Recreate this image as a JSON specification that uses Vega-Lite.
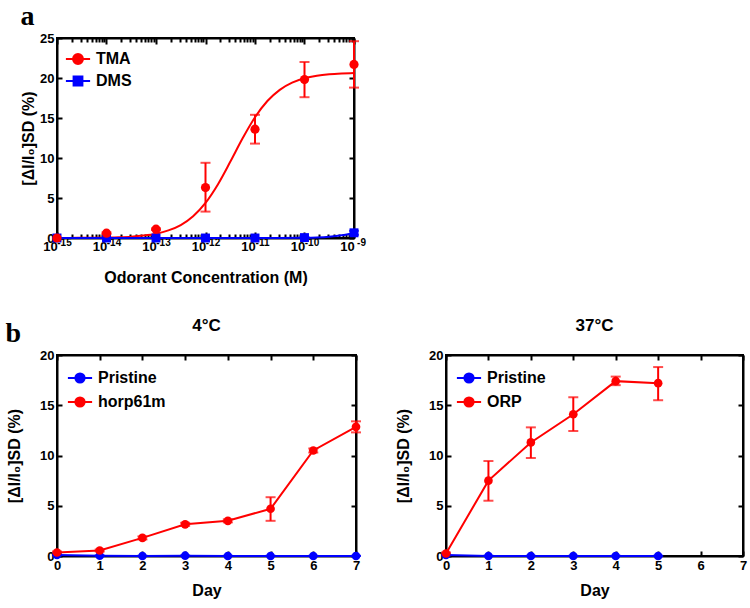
{
  "$schema": "https://vega.github.io/schema/vega-lite/v6.json",
  "background": "white",
  "padding": {"left": 5, "top": 2, "right": 5, "bottom": 5},
  "spacing": 30,
  "columns": 1,
  "align": "none",
  "datasets": {
    "a_pts": [
      {"conc": 1e-15, "series": "TMA", "mean": 0, "lo": 0, "hi": 0},
      {"conc": 1e-14, "series": "TMA", "mean": 0.6, "lo": 0.5, "hi": 0.7},
      {"conc": 1e-13, "series": "TMA", "mean": 1.1, "lo": 1.0, "hi": 1.2},
      {"conc": 1e-12, "series": "TMA", "mean": 6.3, "lo": 3.3, "hi": 9.4},
      {"conc": 1e-11, "series": "TMA", "mean": 13.6, "lo": 11.8, "hi": 15.4},
      {"conc": 1e-10, "series": "TMA", "mean": 19.8, "lo": 17.6, "hi": 22.0},
      {"conc": 1e-9, "series": "TMA", "mean": 21.7, "lo": 18.8, "hi": 24.6},
      {"conc": 1e-15, "series": "DMS", "mean": 0, "lo": 0, "hi": 0},
      {"conc": 1e-14, "series": "DMS", "mean": 0, "lo": 0, "hi": 0},
      {"conc": 1e-13, "series": "DMS", "mean": 0, "lo": 0, "hi": 0},
      {"conc": 1e-12, "series": "DMS", "mean": 0, "lo": 0, "hi": 0},
      {"conc": 1e-11, "series": "DMS", "mean": 0, "lo": 0, "hi": 0},
      {"conc": 1e-10, "series": "DMS", "mean": 0.05, "lo": 0, "hi": 0.1},
      {"conc": 1e-9, "series": "DMS", "mean": 0.65, "lo": 0.4, "hi": 0.9}
    ],
    "a_fit": [
      {"conc": 1e-15, "series": "TMA", "resp": 0.01},
      {"conc": 1.7783e-15, "series": "TMA", "resp": 0.01},
      {"conc": 3.1623e-15, "series": "TMA", "resp": 0.02},
      {"conc": 5.6234e-15, "series": "TMA", "resp": 0.03},
      {"conc": 1e-14, "series": "TMA", "resp": 0.06},
      {"conc": 1.7783e-14, "series": "TMA", "resp": 0.1},
      {"conc": 3.1623e-14, "series": "TMA", "resp": 0.17},
      {"conc": 5.6234e-14, "series": "TMA", "resp": 0.31},
      {"conc": 1e-13, "series": "TMA", "resp": 0.54},
      {"conc": 1.7783e-13, "series": "TMA", "resp": 0.95},
      {"conc": 3.1623e-13, "series": "TMA", "resp": 1.62},
      {"conc": 5.6234e-13, "series": "TMA", "resp": 2.72},
      {"conc": 1e-12, "series": "TMA", "resp": 4.39},
      {"conc": 1.7783e-12, "series": "TMA", "resp": 6.7},
      {"conc": 3.1623e-12, "series": "TMA", "resp": 9.52},
      {"conc": 5.6234e-12, "series": "TMA", "resp": 12.46},
      {"conc": 1e-11, "series": "TMA", "resp": 15.09},
      {"conc": 1.7783e-11, "series": "TMA", "resp": 17.12},
      {"conc": 3.1623e-11, "series": "TMA", "resp": 18.52},
      {"conc": 5.6234e-11, "series": "TMA", "resp": 19.42},
      {"conc": 1e-10, "series": "TMA", "resp": 19.96},
      {"conc": 1.7783e-10, "series": "TMA", "resp": 20.28},
      {"conc": 3.1623e-10, "series": "TMA", "resp": 20.46},
      {"conc": 5.6234e-10, "series": "TMA", "resp": 20.56},
      {"conc": 1e-9, "series": "TMA", "resp": 20.62},
      {"conc": 1e-15, "series": "DMS", "resp": 0},
      {"conc": 1e-14, "series": "DMS", "resp": 0},
      {"conc": 1e-13, "series": "DMS", "resp": 0},
      {"conc": 1e-12, "series": "DMS", "resp": 0},
      {"conc": 1e-11, "series": "DMS", "resp": 0.01},
      {"conc": 3.1623e-11, "series": "DMS", "resp": 0.01},
      {"conc": 1e-10, "series": "DMS", "resp": 0.03},
      {"conc": 1.7783e-10, "series": "DMS", "resp": 0.07},
      {"conc": 3.1623e-10, "series": "DMS", "resp": 0.16},
      {"conc": 5.6234e-10, "series": "DMS", "resp": 0.33},
      {"conc": 1e-9, "series": "DMS", "resp": 0.62}
    ],
    "b4": [
      {"day": 0, "series": "Pristine", "mean": 0.1, "lo": 0.05, "hi": 0.15},
      {"day": 1, "series": "Pristine", "mean": 0.03, "lo": 0.0, "hi": 0.06},
      {"day": 2, "series": "Pristine", "mean": 0.0, "lo": 0.0, "hi": 0.03},
      {"day": 3, "series": "Pristine", "mean": 0.03, "lo": 0.0, "hi": 0.06},
      {"day": 4, "series": "Pristine", "mean": 0.0, "lo": 0.0, "hi": 0.03},
      {"day": 5, "series": "Pristine", "mean": 0.0, "lo": 0.0, "hi": 0.03},
      {"day": 6, "series": "Pristine", "mean": 0.0, "lo": 0.0, "hi": 0.03},
      {"day": 7, "series": "Pristine", "mean": 0.0, "lo": 0.0, "hi": 0.03},
      {"day": 0, "series": "horp61m", "mean": 0.35, "lo": 0.25, "hi": 0.45},
      {"day": 1, "series": "horp61m", "mean": 0.55, "lo": 0.45, "hi": 0.65},
      {"day": 2, "series": "horp61m", "mean": 1.8, "lo": 1.65, "hi": 1.95},
      {"day": 3, "series": "horp61m", "mean": 3.15, "lo": 3.0, "hi": 3.3},
      {"day": 4, "series": "horp61m", "mean": 3.5, "lo": 3.35, "hi": 3.65},
      {"day": 5, "series": "horp61m", "mean": 4.7, "lo": 3.5, "hi": 5.85},
      {"day": 6, "series": "horp61m", "mean": 10.5, "lo": 10.3, "hi": 10.7},
      {"day": 7, "series": "horp61m", "mean": 12.85, "lo": 12.3, "hi": 13.4}
    ],
    "b37": [
      {"day": 0, "series": "Pristine", "mean": 0.1, "lo": 0.05, "hi": 0.15},
      {"day": 1, "series": "Pristine", "mean": 0.0, "lo": 0.0, "hi": 0.03},
      {"day": 2, "series": "Pristine", "mean": 0.0, "lo": 0.0, "hi": 0.03},
      {"day": 3, "series": "Pristine", "mean": 0.0, "lo": 0.0, "hi": 0.03},
      {"day": 4, "series": "Pristine", "mean": 0.0, "lo": 0.0, "hi": 0.03},
      {"day": 5, "series": "Pristine", "mean": 0.0, "lo": 0.0, "hi": 0.03},
      {"day": 0, "series": "ORP", "mean": 0.25, "lo": 0.15, "hi": 0.35},
      {"day": 1, "series": "ORP", "mean": 7.5, "lo": 5.5, "hi": 9.45},
      {"day": 2, "series": "ORP", "mean": 11.3, "lo": 9.75, "hi": 12.8},
      {"day": 3, "series": "ORP", "mean": 14.1, "lo": 12.45, "hi": 15.8},
      {"day": 4, "series": "ORP", "mean": 17.4, "lo": 17.0, "hi": 17.85},
      {"day": 5, "series": "ORP", "mean": 17.2, "lo": 15.5, "hi": 18.8}
    ]
  },
  "resolve": {"scale": {"color": "independent"}, "legend": {"color": "independent"}},
  "concat": [
    {
      "width": 297,
      "height": 200,
      "title": {"text": "a", "anchor": "start", "frame": "bounds", "font": "Liberation Serif", "fontSize": 28, "fontWeight": "bold", "offset": 1},
      "layer": [
        {
          "data": {"name": "a_fit"},
          "mark": {"type": "line", "strokeWidth": 2, "interpolate": "monotone"},
          "encoding": {
            "x": {"field": "conc", "type": "quantitative", "scale": {"type": "log", "domain": [1e-15, 1e-9], "nice": false},
              "axis": {"orient": "bottom", "title": "Odorant Concentration (M)", "labelPadding": 8, "titlePadding": 14, "labelOffset": -7,
                "values": [1e-15,2e-15,3e-15,4e-15,5e-15,6e-15,7e-15,8e-15,9e-15,1e-14,2e-14,3e-14,4e-14,5e-14,6e-14,7e-14,8e-14,9e-14,1e-13,2e-13,3e-13,4e-13,5e-13,6e-13,7e-13,8e-13,9e-13,1e-12,2e-12,3e-12,4e-12,5e-12,6e-12,7e-12,8e-12,9e-12,1e-11,2e-11,3e-11,4e-11,5e-11,6e-11,7e-11,8e-11,9e-11,1e-10,2e-10,3e-10,4e-10,5e-10,6e-10,7e-10,8e-10,9e-10,1e-9],
                "labelExpr": "abs(log(datum.value)/LN10 - round(log(datum.value)/LN10)) > 0.001 ? '' : '10'",
                "tickSize": {"condition": {"test": "abs(log(datum.value)/LN10 - round(log(datum.value)/LN10)) < 0.001", "value": -6}, "value": -4}}},
            "y": {"field": "resp", "type": "quantitative", "scale": {"domain": [0, 25], "nice": false},
              "axis": {"orient": "left", "title": "[ΔI/I₀]SD (%)", "values": [0, 5, 10, 15, 20, 25], "titlePadding": 3}},
            "color": {"field": "series", "type": "nominal", "scale": {"domain": ["TMA", "DMS"], "range": ["#ff0000", "#0000ff"]},
              "legend": {"title": null, "orient": "top-left", "offset": 9, "symbolSize": 484, "rowPadding": 1,
                "encode": {"symbols": {"update": {
                  "shape": {"signal": "datum.value === 'DMS' ? 'M-1.1,0H1.1M-0.4,-0.4H0.4V0.4H-0.4Z' : 'M-1.1,0H1.1M-0.45,0A0.45,0.45,0,1,1,0.45,0A0.45,0.45,0,1,1,-0.45,0Z'"},
                  "fill": {"signal": "datum.value === 'DMS' ? '#0000ff' : '#ff0000'"},
                  "stroke": {"signal": "datum.value === 'DMS' ? '#0000ff' : '#ff0000'"},
                  "strokeWidth": {"value": 2},
                  "opacity": {"value": 1}}}}}}
          }
        },
        {
          "data": {"name": "a_pts"},
          "mark": {"type": "rule", "strokeWidth": 2},
          "encoding": {
            "x": {"field": "conc", "type": "quantitative", "scale": {"type": "log", "domain": [1e-15, 1e-9], "nice": false},
              "axis": {"orient": "bottom", "title": null, "ticks": false, "domain": false, "labelFontSize": 10, "labelPadding": -1, "labelOffset": 7,
                "values": [1e-15, 1e-14, 1e-13, 1e-12, 1e-11, 1e-10, 1e-9],
                "labelExpr": "'-' + format(-round(log(datum.value)/LN10), 'd')"}},
            "y": {"field": "lo", "type": "quantitative", "scale": {"domain": [0, 25], "nice": false}, "axis": null},
            "y2": {"field": "hi"},
            "color": {"field": "series", "type": "nominal"}
          }
        },
        {
          "data": {"name": "a_pts"},
          "mark": {"type": "tick", "orient": "horizontal", "size": 10, "thickness": 2},
          "encoding": {
            "x": {"field": "conc", "type": "quantitative", "scale": {"type": "log", "domain": [1e-15, 1e-9], "nice": false}, "axis": null},
            "y": {"field": "lo", "type": "quantitative", "scale": {"domain": [0, 25], "nice": false}, "axis": null},
            "color": {"field": "series", "type": "nominal"}
          }
        },
        {
          "data": {"name": "a_pts"},
          "mark": {"type": "tick", "orient": "horizontal", "size": 10, "thickness": 2},
          "encoding": {
            "x": {"field": "conc", "type": "quantitative", "scale": {"type": "log", "domain": [1e-15, 1e-9], "nice": false}, "axis": null},
            "y": {"field": "hi", "type": "quantitative", "scale": {"domain": [0, 25], "nice": false}, "axis": null},
            "color": {"field": "series", "type": "nominal"}
          }
        },
        {
          "data": {"name": "a_pts"},
          "transform": [{"filter": "datum.series === 'DMS'"}],
          "mark": {"type": "point", "filled": true, "opacity": 1, "size": 80, "shape": "square"},
          "encoding": {
            "x": {"field": "conc", "type": "quantitative", "scale": {"type": "log", "domain": [1e-15, 1e-9], "nice": false}, "axis": null},
            "y": {"field": "mean", "type": "quantitative", "scale": {"domain": [0, 25], "nice": false}, "axis": null},
            "color": {"field": "series", "type": "nominal"}
          }
        },
        {
          "data": {"name": "a_pts"},
          "transform": [{"filter": "datum.series === 'TMA'"}],
          "mark": {"type": "point", "filled": true, "opacity": 1, "size": 85, "shape": "circle"},
          "encoding": {
            "x": {"field": "conc", "type": "quantitative", "scale": {"type": "log", "domain": [1e-15, 1e-9], "nice": false},
              "axis": {"orient": "top", "title": null, "labels": false,
                "values": [1e-15,2e-15,3e-15,4e-15,5e-15,6e-15,7e-15,8e-15,9e-15,1e-14,2e-14,3e-14,4e-14,5e-14,6e-14,7e-14,8e-14,9e-14,1e-13,2e-13,3e-13,4e-13,5e-13,6e-13,7e-13,8e-13,9e-13,1e-12,2e-12,3e-12,4e-12,5e-12,6e-12,7e-12,8e-12,9e-12,1e-11,2e-11,3e-11,4e-11,5e-11,6e-11,7e-11,8e-11,9e-11,1e-10,2e-10,3e-10,4e-10,5e-10,6e-10,7e-10,8e-10,9e-10,1e-9],
                "tickSize": {"condition": {"test": "abs(log(datum.value)/LN10 - round(log(datum.value)/LN10)) < 0.001", "value": -6}, "value": -4}}},
            "y": {"field": "mean", "type": "quantitative", "scale": {"domain": [0, 25], "nice": false},
              "axis": {"orient": "right", "title": null, "labels": false, "values": [0, 5, 10, 15, 20, 25]}},
            "color": {"field": "series", "type": "nominal"}
          }
        }
      ],
      "resolve": {"axis": {"x": "independent", "y": "independent"}}
    },
    {
      "title": {"text": "b", "anchor": "start", "frame": "bounds", "font": "Liberation Serif", "fontSize": 28, "fontWeight": "bold", "offset": -32},
      "spacing": 32,
      "resolve": {"scale": {"color": "independent"}, "legend": {"color": "independent"}},
      "hconcat": [
        {
          "width": 299,
          "height": 201,
          "title": {"text": "4°C", "offset": 14},
          "data": {"name": "b4"},
          "layer": [
            {
              "mark": {"type": "line", "strokeWidth": 2},
              "encoding": {
                "x": {"field": "day", "type": "quantitative", "scale": {"domain": [0, 7], "nice": false},
                  "axis": {"orient": "bottom", "title": "Day", "values": [0, 1, 2, 3, 4, 5, 6, 7]}},
                "y": {"field": "mean", "type": "quantitative", "scale": {"domain": [0, 20], "nice": false},
                  "axis": {"orient": "left", "title": "[ΔI/I₀]SD (%)", "values": [0, 5, 10, 15, 20], "titlePadding": 17}},
                "color": {"field": "series", "type": "nominal", "scale": {"domain": ["Pristine", "horp61m"], "range": ["#0000ff", "#ff0000"]},
                  "legend": {"title": null, "orient": "top-left", "offset": 11, "symbolSize": 484, "rowPadding": 3,
                    "encode": {"symbols": {"update": {
                      "shape": {"value": "M-1.1,0H1.1M-0.42,0A0.42,0.42,0,1,1,0.42,0A0.42,0.42,0,1,1,-0.42,0Z"},
                      "fill": {"signal": "datum.value === 'Pristine' ? '#0000ff' : '#ff0000'"},
                      "stroke": {"signal": "datum.value === 'Pristine' ? '#0000ff' : '#ff0000'"},
                      "strokeWidth": {"value": 2},
                      "opacity": {"value": 1}}}}}}
              }
            },
            {
              "mark": {"type": "rule", "strokeWidth": 2},
              "encoding": {
                "x": {"field": "day", "type": "quantitative", "scale": {"domain": [0, 7], "nice": false}, "axis": null},
                "y": {"field": "lo", "type": "quantitative", "scale": {"domain": [0, 20], "nice": false}, "axis": null},
                "y2": {"field": "hi"},
                "color": {"field": "series", "type": "nominal"}
              }
            },
            {
              "mark": {"type": "tick", "orient": "horizontal", "size": 10, "thickness": 2},
              "encoding": {
                "x": {"field": "day", "type": "quantitative", "scale": {"domain": [0, 7], "nice": false}, "axis": null},
                "y": {"field": "lo", "type": "quantitative", "scale": {"domain": [0, 20], "nice": false}, "axis": null},
                "color": {"field": "series", "type": "nominal"}
              }
            },
            {
              "mark": {"type": "tick", "orient": "horizontal", "size": 10, "thickness": 2},
              "encoding": {
                "x": {"field": "day", "type": "quantitative", "scale": {"domain": [0, 7], "nice": false}, "axis": null},
                "y": {"field": "hi", "type": "quantitative", "scale": {"domain": [0, 20], "nice": false}, "axis": null},
                "color": {"field": "series", "type": "nominal"}
              }
            },
            {
              "mark": {"type": "point", "filled": true, "opacity": 1, "size": 75, "shape": "circle"},
              "encoding": {
                "x": {"field": "day", "type": "quantitative", "scale": {"domain": [0, 7], "nice": false},
                  "axis": {"orient": "top", "title": null, "labels": false, "values": [0, 1, 2, 3, 4, 5, 6, 7]}},
                "y": {"field": "mean", "type": "quantitative", "scale": {"domain": [0, 20], "nice": false},
                  "axis": {"orient": "right", "title": null, "labels": false, "values": [0, 5, 10, 15, 20]}},
                "color": {"field": "series", "type": "nominal"}
              }
            }
          ],
          "resolve": {"axis": {"x": "independent", "y": "independent"}}
        },
        {
          "width": 297,
          "height": 201,
          "title": {"text": "37°C", "offset": 14},
          "data": {"name": "b37"},
          "layer": [
            {
              "mark": {"type": "line", "strokeWidth": 2},
              "encoding": {
                "x": {"field": "day", "type": "quantitative", "scale": {"domain": [0, 7], "nice": false},
                  "axis": {"orient": "bottom", "title": "Day", "values": [0, 1, 2, 3, 4, 5, 6, 7]}},
                "y": {"field": "mean", "type": "quantitative", "scale": {"domain": [0, 20], "nice": false},
                  "axis": {"orient": "left", "title": "[ΔI/I₀]SD (%)", "values": [0, 5, 10, 15, 20], "titlePadding": 17}},
                "color": {"field": "series", "type": "nominal", "scale": {"domain": ["Pristine", "ORP"], "range": ["#0000ff", "#ff0000"]},
                  "legend": {"title": null, "orient": "top-left", "offset": 11, "symbolSize": 484, "rowPadding": 3,
                    "encode": {"symbols": {"update": {
                      "shape": {"value": "M-1.1,0H1.1M-0.42,0A0.42,0.42,0,1,1,0.42,0A0.42,0.42,0,1,1,-0.42,0Z"},
                      "fill": {"signal": "datum.value === 'Pristine' ? '#0000ff' : '#ff0000'"},
                      "stroke": {"signal": "datum.value === 'Pristine' ? '#0000ff' : '#ff0000'"},
                      "strokeWidth": {"value": 2},
                      "opacity": {"value": 1}}}}}}
              }
            },
            {
              "mark": {"type": "rule", "strokeWidth": 2},
              "encoding": {
                "x": {"field": "day", "type": "quantitative", "scale": {"domain": [0, 7], "nice": false}, "axis": null},
                "y": {"field": "lo", "type": "quantitative", "scale": {"domain": [0, 20], "nice": false}, "axis": null},
                "y2": {"field": "hi"},
                "color": {"field": "series", "type": "nominal"}
              }
            },
            {
              "mark": {"type": "tick", "orient": "horizontal", "size": 10, "thickness": 2},
              "encoding": {
                "x": {"field": "day", "type": "quantitative", "scale": {"domain": [0, 7], "nice": false}, "axis": null},
                "y": {"field": "lo", "type": "quantitative", "scale": {"domain": [0, 20], "nice": false}, "axis": null},
                "color": {"field": "series", "type": "nominal"}
              }
            },
            {
              "mark": {"type": "tick", "orient": "horizontal", "size": 10, "thickness": 2},
              "encoding": {
                "x": {"field": "day", "type": "quantitative", "scale": {"domain": [0, 7], "nice": false}, "axis": null},
                "y": {"field": "hi", "type": "quantitative", "scale": {"domain": [0, 20], "nice": false}, "axis": null},
                "color": {"field": "series", "type": "nominal"}
              }
            },
            {
              "mark": {"type": "point", "filled": true, "opacity": 1, "size": 75, "shape": "circle"},
              "encoding": {
                "x": {"field": "day", "type": "quantitative", "scale": {"domain": [0, 7], "nice": false},
                  "axis": {"orient": "top", "title": null, "labels": false, "values": [0, 1, 2, 3, 4, 5, 6, 7]}},
                "y": {"field": "mean", "type": "quantitative", "scale": {"domain": [0, 20], "nice": false},
                  "axis": {"orient": "right", "title": null, "labels": false, "values": [0, 5, 10, 15, 20]}},
                "color": {"field": "series", "type": "nominal"}
              }
            }
          ],
          "resolve": {"axis": {"x": "independent", "y": "independent"}}
        }
      ]
    }
  ],
  "config": {
    "font": "Liberation Sans",
    "view": {"stroke": "#000000", "strokeWidth": 2},
    "axis": {"domainColor": "#000000", "domainWidth": 2, "tickColor": "#000000", "tickWidth": 2, "tickSize": -5,
      "labelColor": "#000000", "labelFont": "Liberation Sans", "labelFontSize": 13, "labelFontWeight": "bold", "labelPadding": 8,
      "titleColor": "#000000", "titleFont": "Liberation Sans", "titleFontSize": 16, "titleFontWeight": "bold",
      "grid": false, "labelFlush": false, "labelOverlap": false},
    "axisX": {"titlePadding": 10},
    "axisY": {"titlePadding": 8},
    "legend": {"labelFont": "Liberation Sans", "labelFontSize": 16, "labelFontWeight": "bold", "labelColor": "#000000", "labelOffset": 6},
    "title": {"font": "Liberation Sans", "fontSize": 17, "fontWeight": "bold", "color": "#000000"}
  }
}
